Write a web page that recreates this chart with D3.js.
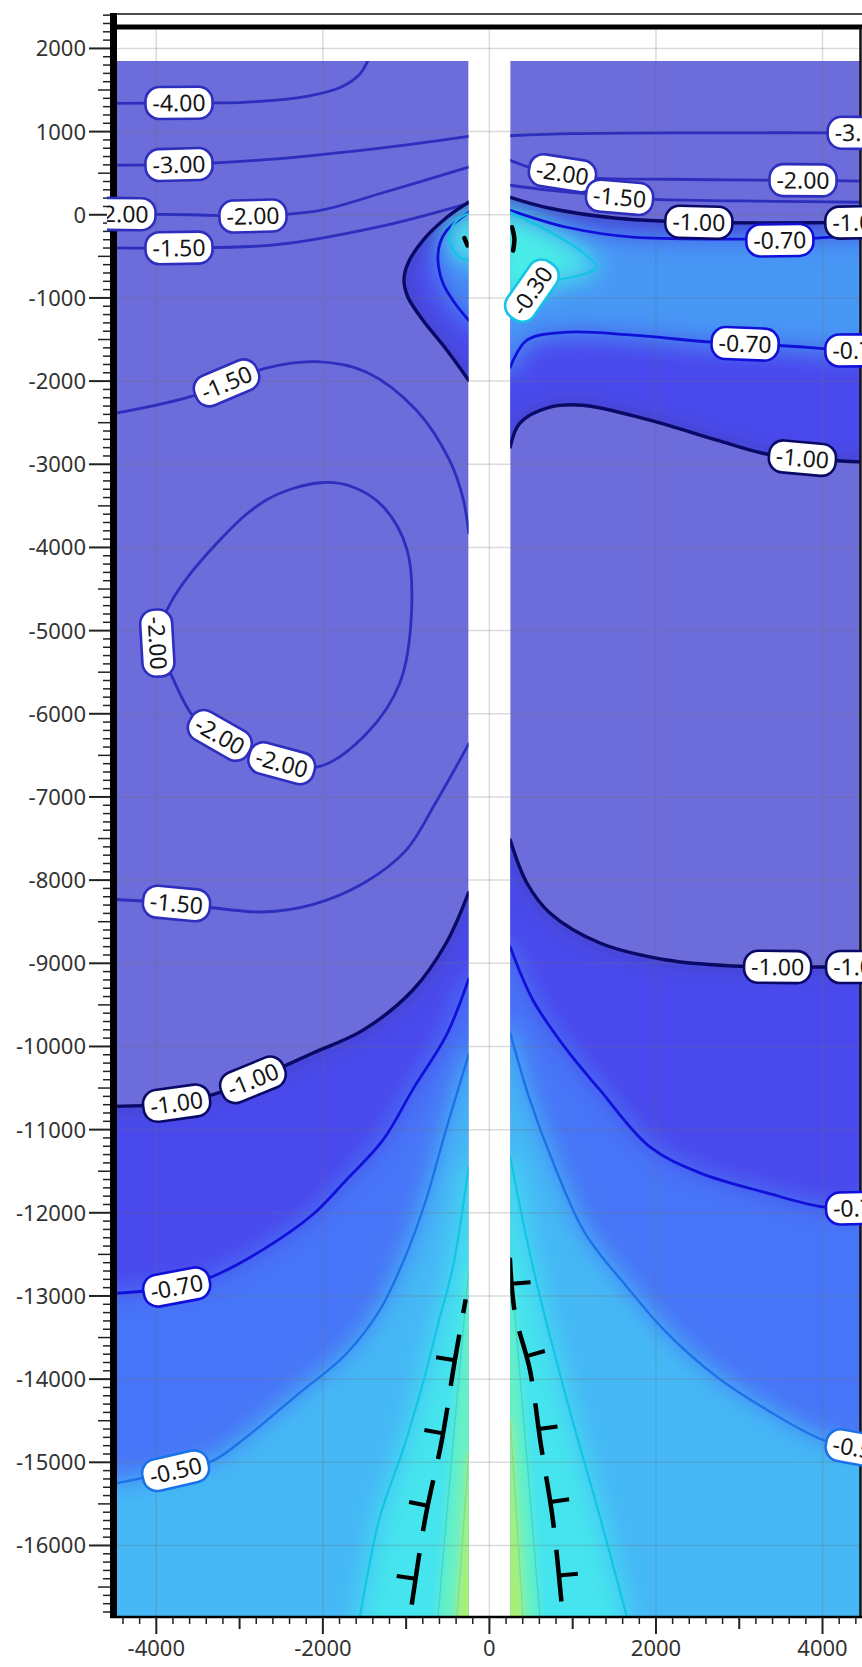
<!DOCTYPE html>
<html>
<head>
<meta charset="utf-8">
<title>Section contours</title>
<script src="https://cdn.jsdelivr.net/npm/d3@7/dist/d3.min.js"></script>
<style>
  html, body { margin: 0; padding: 0; background: #fff; }
  svg { display: block; }
  text { font-family: "Segoe UI", "Noto Sans", "Open Sans", sans-serif; }
</style>
</head>
<body>
<svg id="chart" width="862" height="1667"></svg>
<script>
// ---------------- contour lines: [x, depth] pairs ----------------
// left block
const leftM4 = [[-4520,1339],[-3700,1345],[-2941,1352],[-2176,1428],[-1793,1530],[-1563,1684],[-1461,1850]];
const leftM3 = [[-4520,598],[-3700,605],[-2686,662],[-1410,790],[-250,943]];
const leftM2Top = [[-4520,10],[-3600,0],[-2839,-15],[-2048,49],[-1321,253],[-250,572]];
const leftM15Top = [[-4520,-399],[-3732,-399],[-2558,-360],[-1321,-143],[-250,138]];
const leftM1Pocket = [[-250,150],[-510,-30],[-798,-307],[-978,-583],[-1026,-787],[-978,-992],[-798,-1268],[-510,-1629],[-250,-1989]];
const leftM07Pocket = [[-250,30],[-510,-186],[-594,-343],[-618,-547],[-558,-823],[-414,-1064],[-250,-1268]];
const leftM03Pocket = [[-250,18],[-390,-66],[-474,-222],[-450,-391],[-354,-511],[-250,-547]];
const leftM15Mid = [[-4520,-2392],[-3592,-2187],[-2673,-1842],[-2074,-1766],[-1474,-1893],[-874,-2353],[-478,-2954],[-313,-3426],[-250,-3822]];
const leftM2Loop = [[-2035,-3222],[-2673,-3426],[-3273,-3950],[-3834,-4678],[-3988,-5151],[-3809,-5559],[-3554,-6032],[-3235,-6262],[-2495,-6594],[-2035,-6633],[-1474,-6237],[-1078,-5636],[-938,-4832],[-989,-4027],[-1270,-3516],[-1640,-3273]];
const leftM15Low = [[-250,-6364],[-644,-7067],[-1002,-7642],[-1512,-8038],[-2125,-8294],[-2724,-8383],[-3324,-8332],[-3758,-8281],[-4520,-8230]];
const leftM1Low = [[-250,-8150],[-517,-8753],[-913,-9315],[-1512,-9801],[-2125,-10082],[-2839,-10401],[-3324,-10580],[-3758,-10682],[-4520,-10721]];
const leftM07Low = [[-250,-9190],[-517,-9865],[-912,-10504],[-1282,-11130],[-1716,-11602],[-2125,-12024],[-2724,-12446],[-3324,-12765],[-3758,-12893],[-4520,-12969]];
const leftM05Low = [[-250,-10100],[-522,-11005],[-762,-11846],[-1002,-12507],[-1315,-13168],[-1723,-13700],[-2323,-14200],[-2923,-14700],[-3319,-14980],[-3764,-15100],[-4520,-15260]];
const leftM03Low = [[-250,-11450],[-438,-12650],[-594,-13251],[-798,-14044],[-1038,-14850],[-1315,-15655],[-1555,-16860]];
const leftM02Low = [[-250,-12700],[-440,-14800],[-618,-16860]];
const leftM01Low = [[-250,-14900],[-320,-15900],[-390,-16860]];
const leftHachure = [[-285,-13040],[-414,-13767],[-570,-14729],[-774,-15691],[-954,-16860]];
const leftMark = [[-300,-280],[-262,-370]];

// right block
const rightM3 = [[250,950],[1000,975],[2500,985],[4520,985]];
const rightM2 = [[250,655],[522,559],[882,499],[1290,439],[2131,427],[3403,415],[3763,415],[4520,403]];
const rightM15 = [[250,355],[726,294],[1122,258],[1567,210],[1963,186],[3403,162],[4520,150]];
const rightM1Top = [[250,210],[726,78],[1531,-42],[2527,-90],[4052,-95],[4520,-90]];
const rightM07Top = [[250,54],[930,-150],[1723,-270],[3091,-294],[3487,-306],[4124,-270],[4520,-270]];
const rightM03Spot = [[250,30],[690,-186],[1086,-427],[1290,-631],[1170,-703],[690,-823],[366,-991],[250,-1028]];
const rightM07Low = [[250,-1833],[450,-1508],[930,-1412],[1723,-1448],[2683,-1532],[3451,-1569],[4292,-1629],[4520,-1629]];
const rightM1Low = [[250,-2794],[366,-2506],[726,-2314],[1122,-2290],[1927,-2470],[2731,-2710],[3283,-2867],[3763,-2927],[4520,-2975]];
const rightM1Bot = [[250,-7518],[450,-8035],[726,-8395],[1327,-8756],[2131,-8960],[2923,-9032],[3463,-9044],[4520,-9044]];
const rightM07Bot = [[250,-8804],[522,-9441],[930,-10042],[1327,-10523],[1927,-11208],[2527,-11520],[3331,-11761],[4004,-11929],[4520,-11941]];
const rightM05Bot = [[250,-9837],[486,-10643],[786,-11448],[1146,-12242],[1651,-12891],[2131,-13444],[2731,-13973],[3331,-14369],[4004,-14730],[4520,-14850]];
const rightM03Bot = [[250,-11328],[522,-12650],[930,-14249],[1327,-15655],[1651,-16860]];
const rightM02Bot = [[250,-12600],[430,-14700],[606,-16860]];
const rightM01Bot = [[250,-14500],[330,-15700],[402,-16860]];
const rightHachure = [[246,-12542],[306,-13203],[486,-13888],[618,-14790],[762,-15691],[882,-16860]];
const rightMark = [[272,-150],[300,-290],[285,-430]];

// label anchors: [contour id, x, depth, optional fixed angle]
const labelAnchors = [
  ['leftM4',-3732,1345], ['leftM3',-3732,598], ['leftM2Top',-4410,5], ['leftM2Top',-2839,-15],
  ['leftM15Top',-3732,-399], ['leftM15Mid',-3158,-2008], ['leftM2Loop',-3988,-5151],
  ['leftM2Loop',-3235,-6250], ['leftM2Loop',-2495,-6600], ['leftM15Low',-3758,-8281],
  ['leftM1Low',-3758,-10682], ['leftM1Low',-2839,-10401], ['leftM07Low',-3758,-12893],
  ['leftM05Low',-3764,-15100],
  ['rightM3',4460,985], ['rightM2',882,499], ['rightM2',3763,415], ['rightM15',1567,210],
  ['rightM1Top',2514,-90], ['rightM1Top',4440,-92], ['rightM07Top',3487,-300],
  ['rightM03Spot',370,-680,-55], ['rightM07Low',3067,-1544], ['rightM07Low',4440,-1629],
  ['rightM1Low',3763,-2927], ['rightM1Bot',3463,-9044], ['rightM1Bot',4440,-9044],
  ['rightM07Bot',4440,-11941], ['rightM05Bot',4440,-14850]
];

// axis tick labels
const yTickLabels = d3.range(2000, -16001, -1000);
const xTickLabels = [-4000, -2000, 0, 2000, 4000];

// colour ramp for the field above -1.0
const rampValues = [-1.0, -0.9, -0.8, -0.7, -0.6, -0.5, -0.4, -0.3, -0.2, -0.1, 0];
const rampColors = ['#4444b8','#4b4be2','#4a4af5','#4658fa','#467cf6','#469ef5','#43bef5','#40dcf5','#4af0e4','#7cf0b0','#b4f060'];

// ---------------- layout ----------------
const X_MIN = -4520, X_MAX = 4450, Y_TOP = 2420, Y_MIN = -16860;
const FILL_TOP = 1850, GAP = 250;
const x = d3.scaleLinear().domain([X_MIN, X_MAX]).range([113, 860]);
const y = d3.scaleLinear().domain([Y_TOP, Y_MIN]).range([13.5, 1617]);
const cmap = d3.scaleLinear().domain(rampValues).range(rampColors).interpolate(d3.interpolateRgb).clamp(true);
const SLATE = '#6c6cda';

const contours = [
  {id:'leftM4', side:'L', level:-4, pts:leftM4},
  {id:'leftM3', side:'L', level:-3, pts:leftM3},
  {id:'leftM2Top', side:'L', level:-2, pts:leftM2Top},
  {id:'leftM15Top', side:'L', level:-1.5, pts:leftM15Top},
  {id:'leftM1Pocket', side:'L', level:-1, pts:leftM1Pocket},
  {id:'leftM07Pocket', side:'L', level:-0.7, pts:leftM07Pocket},
  {id:'leftM03Pocket', side:'L', level:-0.3, pts:leftM03Pocket},
  {id:'leftM15Mid', side:'L', level:-1.5, pts:leftM15Mid},
  {id:'leftM2Loop', side:'L', level:-2, pts:leftM2Loop, closed:true},
  {id:'leftM15Low', side:'L', level:-1.5, pts:leftM15Low},
  {id:'leftM1Low', side:'L', level:-1, pts:leftM1Low},
  {id:'leftM07Low', side:'L', level:-0.7, pts:leftM07Low},
  {id:'leftM05Low', side:'L', level:-0.5, pts:leftM05Low},
  {id:'leftM03Low', side:'L', level:-0.3, pts:leftM03Low},
  {id:'leftM02Low', side:'L', level:-0.2, pts:leftM02Low},
  {id:'leftM01Low', side:'L', level:-0.1, pts:leftM01Low},
  {id:'rightM3', side:'R', level:-3, pts:rightM3},
  {id:'rightM2', side:'R', level:-2, pts:rightM2},
  {id:'rightM15', side:'R', level:-1.5, pts:rightM15},
  {id:'rightM1Top', side:'R', level:-1, pts:rightM1Top},
  {id:'rightM07Top', side:'R', level:-0.7, pts:rightM07Top},
  {id:'rightM03Spot', side:'R', level:-0.3, pts:rightM03Spot},
  {id:'rightM07Low', side:'R', level:-0.7, pts:rightM07Low},
  {id:'rightM1Low', side:'R', level:-1, pts:rightM1Low},
  {id:'rightM1Bot', side:'R', level:-1, pts:rightM1Bot},
  {id:'rightM07Bot', side:'R', level:-0.7, pts:rightM07Bot},
  {id:'rightM05Bot', side:'R', level:-0.5, pts:rightM05Bot},
  {id:'rightM03Bot', side:'R', level:-0.3, pts:rightM03Bot},
  {id:'rightM02Bot', side:'R', level:-0.2, pts:rightM02Bot},
  {id:'rightM01Bot', side:'R', level:-0.1, pts:rightM01Bot}
];
const byId = {};
contours.forEach(c => byId[c.id] = c);

// superlevel regions, closed outside the visible block
const XW = X_MIN - 900, XE = X_MAX + 900, XC = 0, YS = Y_MIN - 900;
const regions = [
  {side:'L', level:-1.0, fv:-0.84, parts:['leftM1Pocket',[XC,'prev'],[XC,'first']]},
  {side:'L', level:-1.0, fv:-0.84, parts:['leftM1Low',[XW,'prev'],[XW,YS],[XC,YS],[XC,'first']]},
  {side:'L', level:-0.7, fv:-0.55, parts:['leftM07Pocket',[XC,'prev'],[XC,'first']]},
  {side:'L', level:-0.7, fv:-0.62, parts:['leftM07Low',[XW,'prev'],[XW,YS],[XC,YS],[XC,'first']]},
  {side:'L', level:-0.5, fv:-0.42, parts:['leftM05Low',[XW,'prev'],[XW,YS],[XC,YS],[XC,'first']]},
  {side:'L', level:-0.3, fv:-0.22, parts:['leftM03Pocket',[XC,'prev'],[XC,'first']]},
  {side:'L', level:-0.3, fv:-0.26, parts:['leftM03Low',['prev',YS],[XC,YS],[XC,'first']]},
  {side:'L', level:-0.2, fv:-0.14, parts:['leftM02Low',['prev',YS],[XC,YS],[XC,'first']]},
  {side:'L', level:-0.1, fv:-0.02, parts:['leftM01Low',['prev',YS],[XC,YS],[XC,'first']]},
  {side:'R', level:-1.0, fv:-0.84, parts:['rightM1Top',[XE,'prev'],[XE,'next'],'~rightM1Low',[XC,'prev'],[XC,'first']]},
  {side:'R', level:-1.0, fv:-0.84, parts:['rightM1Bot',[XE,'prev'],[XE,YS],[XC,YS],[XC,'first']]},
  {side:'R', level:-0.7, fv:-0.52, parts:['rightM07Top',[XE,'prev'],[XE,'next'],'~rightM07Low',[XC,'prev'],[XC,'first']]},
  {side:'R', level:-0.7, fv:-0.62, parts:['rightM07Bot',[XE,'prev'],[XE,YS],[XC,YS],[XC,'first']]},
  {side:'R', level:-0.5, fv:-0.42, parts:['rightM05Bot',[XE,'prev'],[XE,YS],[XC,YS],[XC,'first']]},
  {side:'R', level:-0.3, fv:-0.22, parts:['rightM03Spot',[XC,'prev'],[XC,'first']]},
  {side:'R', level:-0.3, fv:-0.26, parts:['rightM03Bot',['prev',YS],[XC,YS],[XC,'first']]},
  {side:'R', level:-0.2, fv:-0.14, parts:['rightM02Bot',['prev',YS],[XC,YS],[XC,'first']]},
  {side:'R', level:-0.1, fv:-0.02, parts:['rightM01Bot',['prev',YS],[XC,YS],[XC,'first']]}
];

function lineStyle(level) {
  if (level <= -1.5) return {stroke:'#2e2ebe', width:2.8};
  if (level === -1) return {stroke:'#0a0a66', width:3.4};
  if (level === -0.7) return {stroke:'#1010d8', width:2.8};
  if (level === -0.5) return {stroke:'#1a72e6', width:2.3};
  if (level === -0.3) return {stroke:'#12c4e6', width:2.2};
  if (level === -0.2) return {stroke:'#3ed8c8', width:1.4};
  return {stroke:'#8ade78', width:1.4};
}

const lineGen = d3.line().x(d => x(d[0])).y(d => y(d[1])).curve(d3.curveCatmullRom.alpha(0.5));
const loopGen = d3.line().x(d => x(d[0])).y(d => y(d[1])).curve(d3.curveCatmullRomClosed.alpha(0.5));

function firstOf(part) {
  const rev = part[0] === '~';
  const c = byId[rev ? part.slice(1) : part];
  return rev ? c.pts[c.pts.length - 1] : c.pts[0];
}
function buildRegion(parts) {
  let d = '', first = null, prev = null;
  parts.forEach((p, i) => {
    if (typeof p === 'string') {
      const rev = p[0] === '~';
      const c = byId[rev ? p.slice(1) : p];
      const arr = rev ? c.pts.slice().reverse() : c.pts;
      let s = lineGen(arr);
      if (d) s = 'L' + s.slice(1);
      d += s;
      if (!first) first = arr[0];
      prev = arr[arr.length - 1];
    } else {
      const nxt = typeof parts[i + 1] === 'string' ? firstOf(parts[i + 1]) : null;
      const pick = (v, k) => v === 'prev' ? prev[k] : v === 'first' ? first[k] : v === 'next' ? nxt[k] : v;
      const pt = [pick(p[0], 0), pick(p[1], 1)];
      d += (d ? 'L' : 'M') + x(pt[0]) + ',' + y(pt[1]);
      if (!first) first = pt;
      prev = pt;
    }
  });
  return d + 'Z';
}
regions.forEach(r => r.d = buildRegion(r.parts));

const svg = d3.select('#chart');
const defs = svg.append('defs');
const sides = {L:[X_MIN, -GAP], R:[GAP, X_MAX]};

Object.entries(sides).forEach(([s, [a, b]]) => {
  defs.append('clipPath').attr('id', 'half' + s).append('rect')
    .attr('x', x(a)).attr('y', y(FILL_TOP))
    .attr('width', x(b) - x(a)).attr('height', y(Y_MIN) - y(FILL_TOP));
  const cp = defs.append('clipPath').attr('id', 'above' + s);
  regions.filter(r => r.side === s && r.level === -1).forEach(r => cp.append('path').attr('d', r.d));
});
defs.append('clipPath').attr('id', 'labelClip').append('rect')
  .attr('x', 107).attr('y', 30).attr('width', 755).attr('height', 1585);
[['soften', 13], ['softenFine', 4]].forEach(([id, sd]) => {
  defs.append('filter').attr('id', id)
    .attr('filterUnits', 'userSpaceOnUse').attr('x', 0).attr('y', 0).attr('width', 862).attr('height', 1667)
    .append('feGaussianBlur').attr('stdDeviation', sd);
});

// ---------------- field ----------------
const fieldG = svg.append('g');
Object.entries(sides).forEach(([s, [a, b]]) => {
  const g = fieldG.append('g').attr('clip-path', `url(#half${s})`);
  g.append('rect').attr('x', x(a)).attr('y', y(FILL_TOP))
    .attr('width', x(b) - x(a)).attr('height', y(Y_MIN) - y(FILL_TOP)).attr('fill', SLATE);
  const inner = g.append('g').attr('clip-path', `url(#above${s})`);
  const soft = inner.append('g').attr('filter', 'url(#soften)');
  soft.append('rect').attr('x', x(a) - 80).attr('y', y(FILL_TOP) - 80)
    .attr('width', x(b) - x(a) + 160).attr('height', y(Y_MIN) - y(FILL_TOP) + 160)
    .attr('fill', cmap(-1.0));
  regions.filter(r => r.side === s && r.level <= -0.3).forEach(r => {
    soft.append('path').attr('d', r.d).attr('fill', cmap(r.fv));
  });
  const fine = inner.append('g').attr('filter', 'url(#softenFine)');
  regions.filter(r => r.side === s && r.level > -0.3).forEach(r => {
    fine.append('path').attr('d', r.d).attr('fill', cmap(r.fv));
  });
});

// ---------------- grid ----------------
const gridG = svg.append('g').attr('stroke', 'rgb(110,110,110)').attr('stroke-opacity', 0.25).attr('stroke-width', 1.5);
d3.range(2000, -16001, -1000).forEach(v => {
  gridG.append('line').attr('x1', 117).attr('x2', 860).attr('y1', y(v)).attr('y2', y(v));
});
[-4000, -2000, 0, 2000, 4000].forEach(v => {
  gridG.append('line').attr('x1', x(v)).attr('x2', x(v)).attr('y1', 29).attr('y2', 1617);
});

// ---------------- contour lines ----------------
const lineG = svg.append('g').attr('fill', 'none').attr('stroke-linejoin', 'round').attr('stroke-linecap', 'round');
const pathNodes = {};
contours.forEach(c => {
  const st = lineStyle(c.level);
  const p = lineG.append('path')
    .attr('clip-path', `url(#half${c.side})`)
    .attr('d', c.closed ? loopGen(c.pts) : lineGen(c.pts))
    .attr('stroke', st.stroke).attr('stroke-width', st.width);
  pathNodes[c.id] = p.node();
});

// hachured dashed lines
const hachG = svg.append('g').attr('fill', 'none').attr('stroke', '#000');
function hachure(pts, side, offset) {
  const p = hachG.append('path').attr('clip-path', `url(#half${side})`)
    .attr('d', lineGen(pts)).attr('stroke-width', 4.5)
    .attr('stroke-dasharray', '52 22').attr('stroke-dashoffset', offset);
  const el = p.node(), L = el.getTotalLength();
  const dir = side === 'L' ? -1 : 1;
  for (let k = 0; k < 40; k++) {
    const s0 = k * 74 - offset, s1 = s0 + 52;
    if (s0 > L) break;
    const a = Math.max(0, s0), b = Math.min(L, s1);
    if (b - a < 30) continue;
    const m = (a + b) / 2;
    const pm = el.getPointAtLength(m), p1 = el.getPointAtLength(m - 3), p2 = el.getPointAtLength(m + 3);
    let tx = p2.x - p1.x, ty = p2.y - p1.y; const n = Math.hypot(tx, ty); tx /= n; ty /= n;
    let nx = -ty, ny = tx; if (Math.sign(nx) !== dir) { nx = -nx; ny = -ny; }
    hachG.append('line').attr('x1', pm.x).attr('y1', pm.y)
      .attr('x2', pm.x + nx * 19).attr('y2', pm.y + ny * 19).attr('stroke-width', 4);
  }
}
hachure(leftHachure, 'L', 38);
hachure(rightHachure, 'R', 0);
[[leftMark, 'L'], [rightMark, 'R']].forEach(([pts, s]) => {
  hachG.append('path').attr('clip-path', `url(#half${s})`).attr('d', lineGen(pts))
    .attr('stroke-width', 4.5).attr('stroke-linecap', 'round');
});

// ---------------- frame and axes ----------------
const axG = svg.append('g');
axG.append('line').attr('x1', 110).attr('x2', 862).attr('y1', 14).attr('y2', 14).attr('stroke', '#111').attr('stroke-width', 1.6);
axG.append('rect').attr('x', 110).attr('y', 24.5).attr('width', 752).attr('height', 5).attr('fill', '#000');
axG.append('rect').attr('x', 110).attr('y', 13).attr('width', 7).attr('height', 1605).attr('fill', '#000');
axG.append('line').attr('x1', 860.5).attr('x2', 860.5).attr('y1', 27).attr('y2', 1617).attr('stroke', '#111').attr('stroke-width', 2.5);
axG.append('line').attr('x1', 110).attr('x2', 862).attr('y1', 1617).attr('y2', 1617).attr('stroke', '#000').attr('stroke-width', 2.5);

d3.range(2400, -16801, -100).forEach(v => {
  const len = v % 1000 === 0 ? 21 : v % 500 === 0 ? 12 : 7;
  axG.append('line').attr('x1', 110 - len).attr('x2', 110).attr('y1', y(v)).attr('y2', y(v))
    .attr('stroke', '#222').attr('stroke-width', v % 1000 === 0 ? 2 : 1.5);
});
yTickLabels.forEach(v => {
  axG.append('text').attr('x', 86).attr('y', y(v)).attr('dy', '0.36em').attr('text-anchor', 'end')
    .attr('font-size', 22).attr('fill', '#333').text(String(v));
});
d3.range(-4400, 4401, 200).forEach(v => {
  const len = v % 2000 === 0 ? 17 : v % 1000 === 0 ? 12 : 7;
  axG.append('line').attr('x1', x(v)).attr('x2', x(v)).attr('y1', 1617).attr('y2', 1617 + len)
    .attr('stroke', '#222').attr('stroke-width', v % 1000 === 0 ? 2 : 1.5);
});
xTickLabels.forEach(v => {
  axG.append('text').attr('x', x(v)).attr('y', 1648).attr('dy', '0.36em').attr('text-anchor', 'middle')
    .attr('font-size', 22).attr('fill', '#333').text(String(v));
});

// ---------------- contour labels (drawn over the frame) ----------------
const labG = svg.append('g').attr('clip-path', 'url(#labelClip)');
function snap(el, px, py) {
  const L = el.getTotalLength();
  let best = 0, bd = Infinity;
  for (let s = 0; s <= L; s += 1) {
    const p = el.getPointAtLength(s);
    const d = (p.x - px) ** 2 + (p.y - py) ** 2;
    if (d < bd) { bd = d; best = s; }
  }
  const p = el.getPointAtLength(best);
  const a = el.getPointAtLength(Math.max(0, best - 5)), b = el.getPointAtLength(Math.min(L, best + 5));
  let ang = Math.atan2(b.y - a.y, b.x - a.x) * 180 / Math.PI;
  if (ang > 95) ang -= 180;
  if (ang <= -85) ang += 180;
  return {x: p.x, y: p.y, ang};
}
labelAnchors.forEach(([id, lx, ly, fixedAng]) => {
  const c = byId[id];
  const st = lineStyle(c.level);
  const sp = snap(pathNodes[id], x(lx), y(ly));
  const ang = fixedAng !== undefined ? fixedAng : sp.ang;
  const g = labG.append('g').attr('transform', `translate(${sp.x},${sp.y}) rotate(${ang})`);
  const rect = g.append('rect');
  const t = g.append('text').attr('text-anchor', 'middle').attr('dy', '0.36em')
    .attr('font-size', 23).attr('fill', '#151515').text(c.level.toFixed(2));
  const w = t.node().getComputedTextLength() + 14;
  rect.attr('x', -w / 2).attr('y', -16).attr('width', w).attr('height', 32).attr('rx', 14)
    .attr('fill', '#fff').attr('stroke', st.stroke).attr('stroke-width', 2.6);
});
</script>
</body>
</html>
